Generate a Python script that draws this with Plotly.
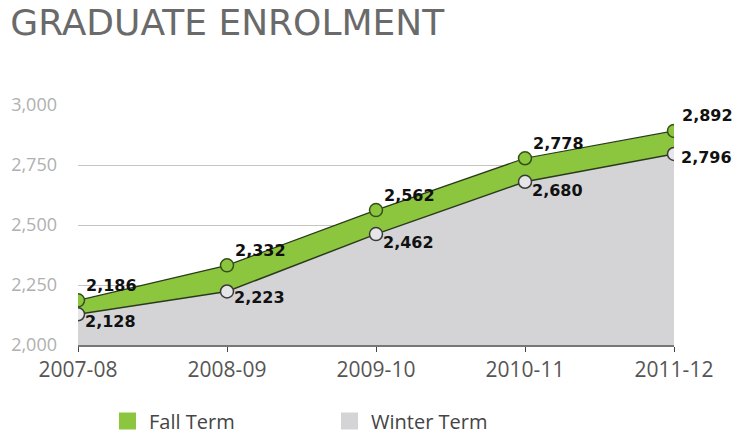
import plotly.graph_objects as go

years = ["2007-08", "2008-09", "2009-10", "2010-11", "2011-12"]
fall = [2186, 2332, 2562, 2778, 2892]
winter = [2128, 2223, 2462, 2680, 2796]
y_ticks = [2000, 2250, 2500, 2750, 3000]
series_names = ["Fall Term", "Winter Term"]

GREEN = "#8cc63e"
GRAY = "#d4d4d6"
LINE = "#2b3a1c"

# plot area in pixels
L, R, T, B = 78, 674, 105, 345
W_, H_ = R - L, B - T

def px_x(p):
    return (p - L) / W_

def px_y(p):
    return (B - p) / H_

fig = go.Figure()
fig.add_trace(go.Scatter(
    x=years, y=winter, mode="lines+markers", fill="tozeroy", fillcolor=GRAY,
    line=dict(color=LINE, width=1.5),
    marker=dict(size=13, color="#e6e6e8", line=dict(color="#3a3a3a", width=1.5)),
    showlegend=False, hoverinfo="skip"))
fig.add_trace(go.Scatter(
    x=years, y=fall, mode="lines+markers", fill="tonexty", fillcolor=GREEN,
    line=dict(color=LINE, width=1.2),
    marker=dict(size=13, color=GREEN, line=dict(color="#34501a", width=1.5)),
    showlegend=False, hoverinfo="skip"))

lab_font = dict(family="DejaVu Sans", size=16, color="#111111", weight="bold")
for i, (yr, v) in enumerate(zip(years, fall)):
    fig.add_annotation(x=yr, y=v, text=f"{v:,}", showarrow=False, xanchor="left",
                       yanchor="middle", xshift=6, yshift=15, font=lab_font)
w_shift = [-7, -6, -8, -9, -4]
for i, (yr, v) in enumerate(zip(years, winter)):
    fig.add_annotation(x=yr, y=v, text=f"{v:,}", showarrow=False, xanchor="left",
                       yanchor="middle", xshift=5, yshift=w_shift[i], font=lab_font)

# legend drawn as shapes + text
leg_sq_left = [119, 341]
leg_colors = [GREEN, GRAY]
leg_cy = 421
for name, sx, col in zip(series_names, leg_sq_left, leg_colors):
    fig.add_shape(type="rect", xref="paper", yref="paper",
                  x0=px_x(sx), x1=px_x(sx + 17), y0=px_y(leg_cy + 8.5), y1=px_y(leg_cy - 8.5),
                  fillcolor=col, line=dict(width=0))
    fig.add_annotation(xref="paper", yref="paper", x=px_x(sx + 28), y=px_y(leg_cy),
                       text=name, showarrow=False, xanchor="left", yanchor="middle",
                       font=dict(family="Open Sans", size=20, color="#444444"))

fig.update_layout(
    width=733, height=434,
    margin=dict(l=L, r=733 - R, t=T, b=434 - B),
    paper_bgcolor="white", plot_bgcolor="white",
    showlegend=False,
    title=dict(text="GRADUATE ENROLMENT", x=0.014, xanchor="left",
               yref="container", y=1 - 22 / 434, yanchor="middle",
               font=dict(family="DejaVu Sans", size=36, color="#6a6a6a")),
    xaxis=dict(type="category", range=[0, 4], showgrid=False, showline=True,
               linecolor="#777777", linewidth=1.5, ticks="outside", ticklen=5,
               tickcolor="#444444", tickfont=dict(family="Open Sans", size=21, color="#555555"),
               zeroline=False, fixedrange=True),
    yaxis=dict(range=[2000, 3000], tickvals=y_ticks, tickformat=",",
               showgrid=True, gridcolor="#c4c4c4", gridwidth=1, zeroline=False,
               tickfont=dict(family="Open Sans", size=18, color="#b0b0b0"),
               ticklabelstandoff=20, showline=False),
)

fig.write_html("out.html")
